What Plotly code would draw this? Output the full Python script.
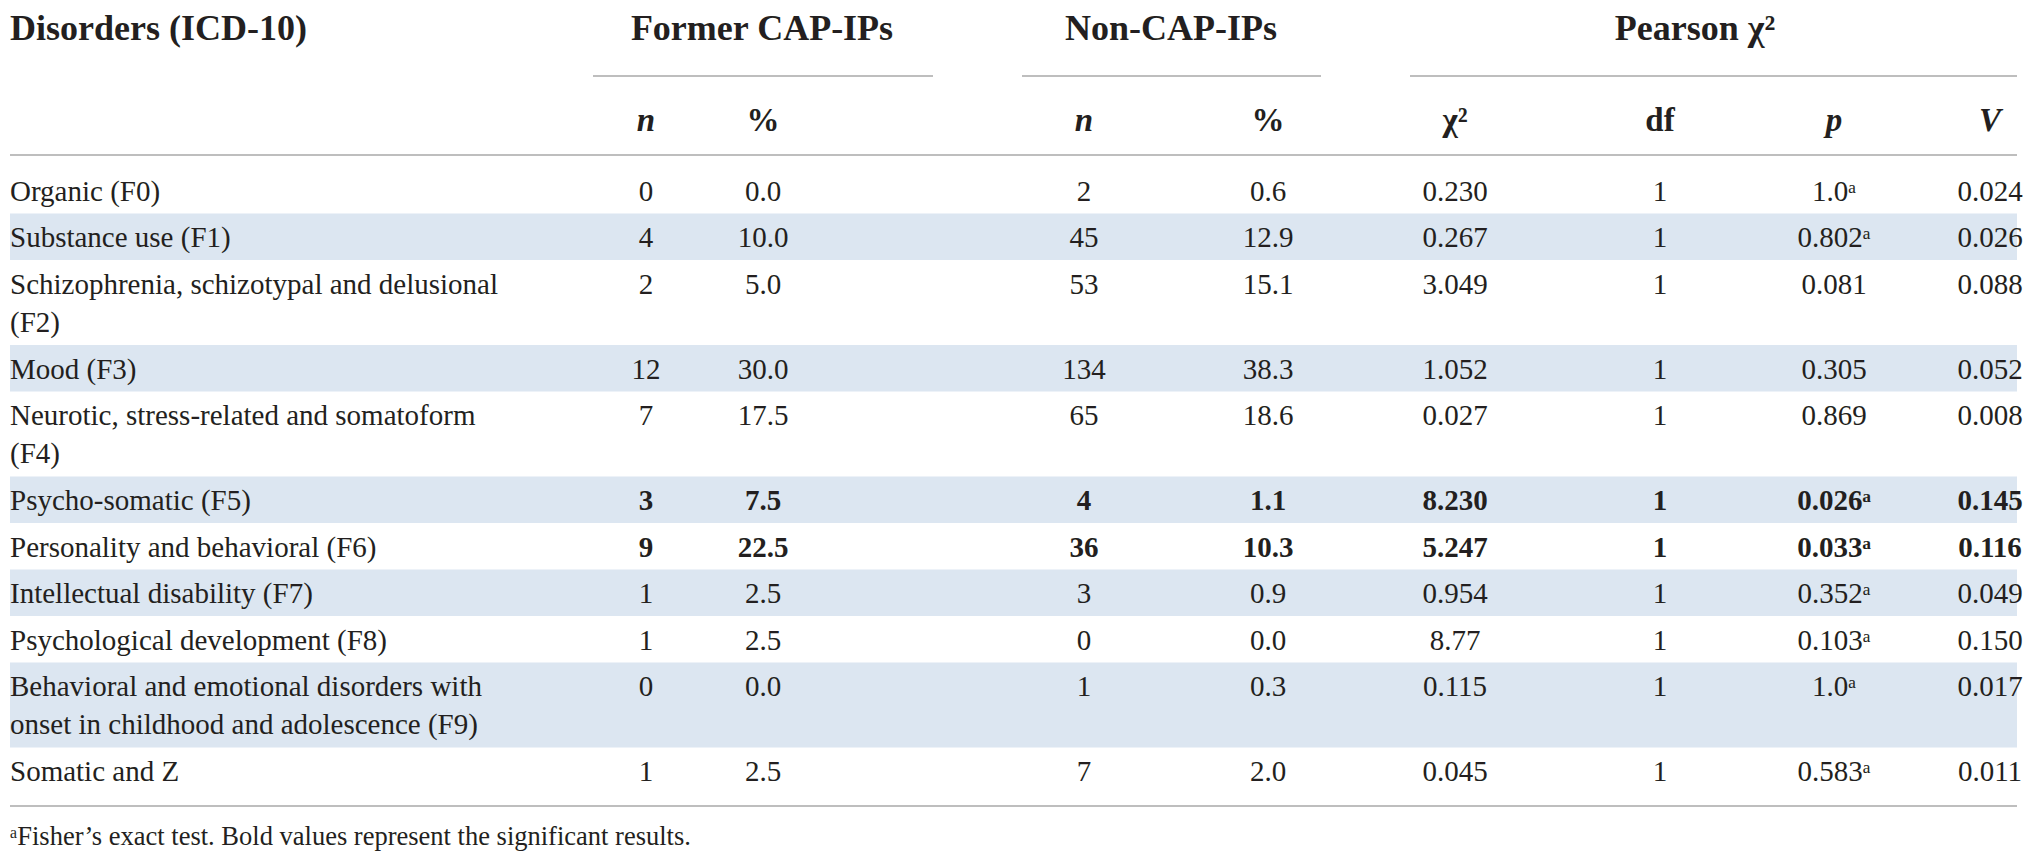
import plotly.graph_objects as go

# ---------------------------------------------------------------------------
# Données du tableau (diagnostics CIM-10, anciens patients PEA vs autres)
# ---------------------------------------------------------------------------
disorders = [
    "Organic (F0)",
    "Substance use (F1)",
    "Schizophrenia, schizotypal and delusional<br>(F2)",
    "Mood (F3)",
    "Neurotic, stress-related and somatoform<br>(F4)",
    "Psycho-somatic (F5)",
    "Personality and behavioral (F6)",
    "Intellectual disability (F7)",
    "Psychological development (F8)",
    "Behavioral and emotional disorders with<br>onset in childhood and adolescence (F9)",
    "Somatic and Z",
]
former_n = [0, 4, 2, 12, 7, 3, 9, 1, 1, 0, 1]
former_pct = [0.0, 10.0, 5.0, 30.0, 17.5, 7.5, 22.5, 2.5, 2.5, 0.0, 2.5]
non_n = [2, 45, 53, 134, 65, 4, 36, 3, 0, 1, 7]
non_pct = [0.6, 12.9, 15.1, 38.3, 18.6, 1.1, 10.3, 0.9, 0.0, 0.3, 2.0]
chi2 = ["0.230", "0.267", "3.049", "1.052", "0.027", "8.230", "5.247", "0.954", "8.77", "0.115", "0.045"]
dof = [1, 1, 1, 1, 1, 1, 1, 1, 1, 1, 1]
p_values = ["1.0", "0.802", "0.081", "0.305", "0.869", "0.026", "0.033", "0.352", "0.103", "1.0", "0.583"]
fisher = [True, True, False, False, False, True, True, True, True, True, True]
cramer_v = ["0.024", "0.026", "0.088", "0.052", "0.008", "0.145", "0.116", "0.049", "0.150", "0.017", "0.011"]
significant = [False, False, False, False, False, True, True, False, False, False, False]

group_titles = ["Former CAP-IPs", "Non-CAP-IPs", "Pearson χ²"]
sub_headers = ["<b><i>n</i></b>", "<b>%</b>", "<b><i>n</i></b>", "<b>%</b>",
               "<b>χ²</b>", "<b>df</b>", "<b><i>p</i></b>", "<b><i>V</i></b>"]
footnote = "ᵃFisher’s exact test. Bold values represent the significant results."

# ---------------------------------------------------------------------------
# Mise en page (coordonnées en pixels de la page)
# ---------------------------------------------------------------------------
W, H = 2029, 860
FONT = "Liberation Serif"
TXT = "#231f20"
BAND = "#dce6f1"
RULE = "#a8a8a8"

LEFT, RIGHT = 10, 2017
COL_X = [646, 763, 1084, 1268, 1455, 1660, 1834, 1990]
GROUP_X = [762, 1171, 1695]
GROUP_SPAN = [(593, 933), (1022, 1321), (1410, 2017)]

Y_TITLE, Y_UNDER, Y_SUB, Y_RULE = 31, 76, 123, 155
ROW_TOP = 167
LINE_H = 38.5
ROW_BASE = 46.5
BOTTOM_PAD = 12
DY = 3  # petit décalage vertical du texte

# hauteur des rangées selon le nombre de lignes de texte
n_lines = [d.count("<br>") + 1 for d in disorders]
row_h = [ROW_BASE + (k - 1) * LINE_H for k in n_lines]
row_y0 = []
y = ROW_TOP
for h in row_h:
    row_y0.append(y)
    y += h
y_bottom = y + BOTTOM_PAD
row_mid = [y0 + h / 2 + DY for y0, h in zip(row_y0, row_h)]
row_first = [m - (k - 1) * LINE_H / 2 for m, k in zip(row_mid, n_lines)]


def fmt(v, bold):
    return f"<b>{v}</b>" if bold else str(v)


columns = [
    [fmt(v, b) for v, b in zip(former_n, significant)],
    [fmt(f"{v:.1f}", b) for v, b in zip(former_pct, significant)],
    [fmt(v, b) for v, b in zip(non_n, significant)],
    [fmt(f"{v:.1f}", b) for v, b in zip(non_pct, significant)],
    [fmt(v, b) for v, b in zip(chi2, significant)],
    [fmt(v, b) for v, b in zip(dof, significant)],
    [fmt(v + ("ᵃ" if f else ""), b) for v, f, b in zip(p_values, fisher, significant)],
    [fmt(v, b) for v, b in zip(cramer_v, significant)],
]


def text_trace(xs, ys, texts, size, pos="middle center"):
    return go.Scatter(
        x=xs, y=ys, text=texts, mode="text", textposition=pos,
        textfont=dict(family=FONT, size=size, color=TXT),
        cliponaxis=False, hoverinfo="skip")


fig = go.Figure()

# bandes bleues une rangée sur deux
shapes = []
for i, (y0, h) in enumerate(zip(row_y0, row_h)):
    if i % 2 == 1:
        shapes.append(dict(type="rect", x0=LEFT, x1=RIGHT, y0=y0, y1=y0 + h,
                           fillcolor=BAND, line_width=0, layer="below"))
# filets
for x0, x1 in GROUP_SPAN:
    shapes.append(dict(type="line", x0=x0, x1=x1, y0=Y_UNDER, y1=Y_UNDER,
                       line=dict(color=RULE, width=1.5)))
for yy in (Y_RULE, y_bottom):
    shapes.append(dict(type="line", x0=LEFT, x1=RIGHT, y0=yy, y1=yy,
                       line=dict(color=RULE, width=1.5)))

# en-têtes
fig.add_trace(text_trace([LEFT], [Y_TITLE], ["<b>Disorders (ICD-10)</b>"], 36, "middle right"))
fig.add_trace(text_trace(GROUP_X, [Y_TITLE] * 3, [f"<b>{t}</b>" for t in group_titles], 36))
fig.add_trace(text_trace(COL_X, [Y_SUB] * len(COL_X), sub_headers, 33))

# première colonne
fig.add_trace(text_trace([LEFT] * len(disorders), row_mid, disorders, 29, "middle right"))

# colonnes numériques (alignées sur la première ligne)
for cx, col in zip(COL_X, columns):
    fig.add_trace(text_trace([cx] * len(col), row_first, col, 29))

# note de bas de tableau
fig.add_trace(text_trace([LEFT], [y_bottom + 32], [footnote], 26.5, "middle right"))

fig.update_layout(
    width=W, height=H,
    margin=dict(l=0, r=0, t=0, b=0),
    paper_bgcolor="white", plot_bgcolor="white",
    showlegend=False,
    shapes=shapes,
    xaxis=dict(range=[0, W], visible=False, fixedrange=True),
    yaxis=dict(range=[H, 0], visible=False, fixedrange=True),
)

# pas de marge autour du graphique dans la page
fig.write_html("out.html", config={"displayModeBar": False},
               post_script="document.body.style.margin='0';"
               "document.body.style.overflow='hidden';")
